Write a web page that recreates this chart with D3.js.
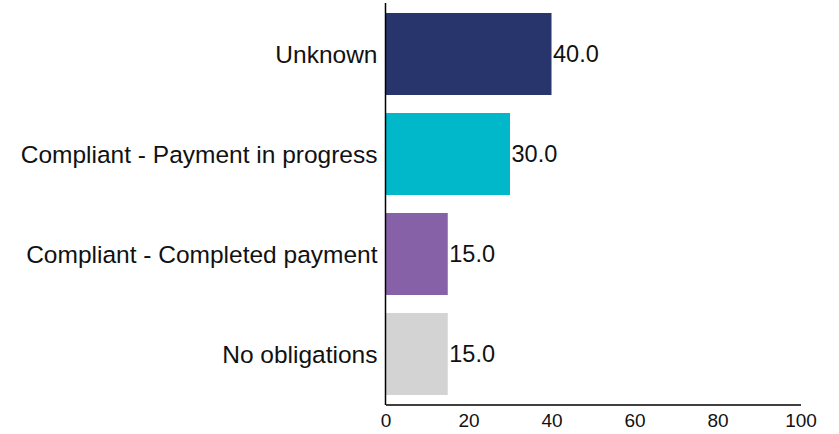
<!DOCTYPE html>
<html><head><meta charset="utf-8">
<script src="https://cdn.jsdelivr.net/npm/d3@7"></script>
<style>body{margin:0;background:#fff}svg{display:block}text{font-family:"Liberation Sans",Arial,sans-serif;fill:#111}</style>
</head><body><svg id="c" width="839" height="434"></svg>
<script>
const categories = ["Unknown","Compliant - Payment in progress","Compliant - Completed payment","No obligations"];
const values = [40.0, 30.0, 15.0, 15.0];
const colors = ["#27356C","#00B8C9","#8761A8","#D3D3D4"];
const xTicks = [0,20,40,60,80,100];

const svg = d3.select("#c");
const x = d3.scaleLinear().domain([0,100]).range([385.5,800.5]);
const y = d3.scaleBand().domain(categories).range([4,404]).paddingInner(0.18).paddingOuter(0.09);

svg.selectAll("rect.bar").data(categories).join("rect")
  .attr("class","bar")
  .attr("x", x(0))
  .attr("y", d=>y(d))
  .attr("width", (d,i)=>x(values[i])-x(0))
  .attr("height", y.bandwidth())
  .attr("fill",(d,i)=>colors[i]);

svg.selectAll("text.val").data(categories).join("text")
  .attr("class","val")
  .attr("x",(d,i)=>x(values[i])+1.5)
  .attr("y",d=>y(d)+y.bandwidth()/2)
  .attr("dy","0.35em")
  .style("font-size","23.5px")
  .text((d,i)=>values[i].toFixed(1));

svg.selectAll("text.cat").data(categories).join("text")
  .attr("class","cat")
  .attr("x",377.5)
  .attr("y",d=>y(d)+y.bandwidth()/2)
  .attr("dy","0.35em")
  .attr("text-anchor","end")
  .style("font-size","24.5px")
  .text(d=>d);

// y axis line
svg.append("line").attr("x1",385.5).attr("x2",385.5).attr("y1",3).attr("y2",405).attr("stroke","#000").attr("stroke-width",1.5);

const xa = svg.append("g").attr("transform","translate(0,404.5)")
  .call(d3.axisBottom(x).tickValues(xTicks).tickSize(0).tickPadding(9).tickFormat(d3.format("d")));
xa.select(".domain").attr("stroke","#000").attr("stroke-width",1.5);
xa.selectAll("text").style("font-size","19px").attr("fill","#111").style("font-family","'Liberation Sans',Arial,sans-serif");
</script></body></html>
